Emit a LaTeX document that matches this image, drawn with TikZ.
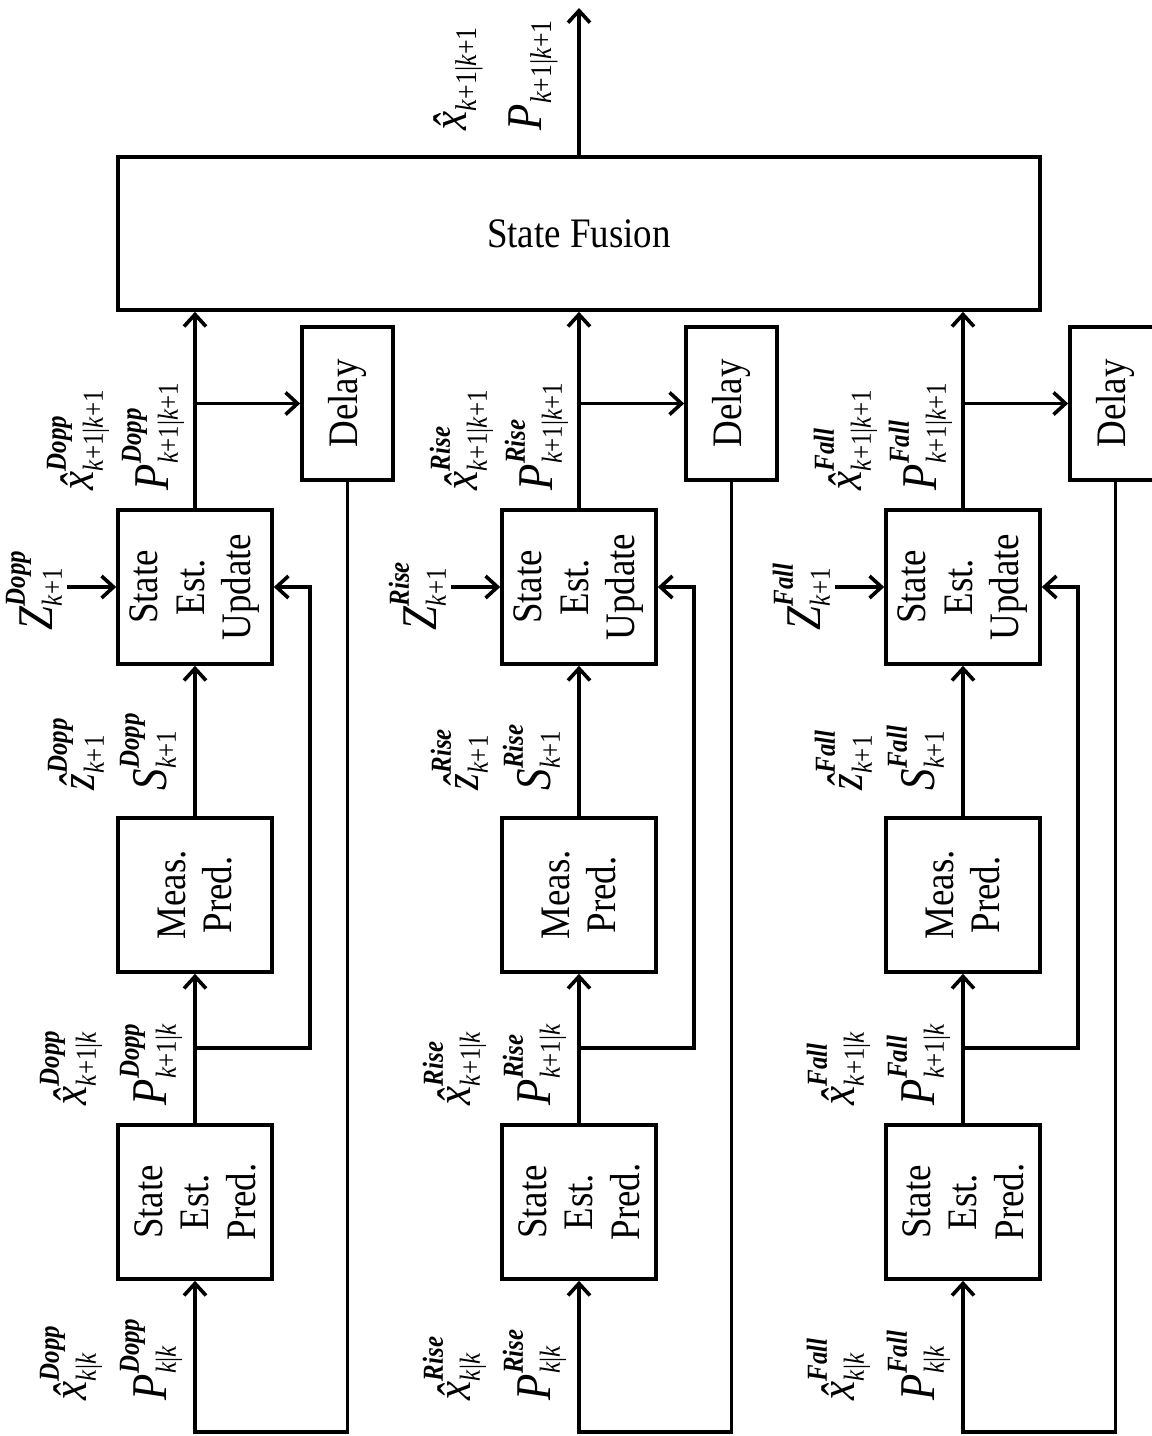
\documentclass[tikz,border=0pt]{standalone}
\usepackage{fontspec}
\setmainfont{Liberation Serif}
\newfontfamily\cfont[FakeStretch=0.88]{Liberation Serif}
\newfontfamily\lfont[FakeStretch=0.86]{Liberation Serif}
\usetikzlibrary{arrows.meta,calc}
% label: main symbol, superscript, subscript
\newcommand{\lab}[3]{{\itshape #1}\raisebox{-9pt}{\fontsize{29}{37}\selectfont\begin{tabular}[b]{@{}l@{}}{\bfseries\itshape #2}\\{\itshape #3}\end{tabular}}}
\newcommand{\labs}[2]{{\itshape #1}\raisebox{-10pt}{\fontsize{30}{40}\selectfont\itshape #2}}
\newcommand{\kp}{k\textup{+1}}
\newcommand{\vb}{\textup{|}}
\begin{document}
\begin{tikzpicture}[x=1pt,y=-1pt,
  line width=3.6pt,
  arr/.style={-{Straight Barb[length=12pt,width=22pt]}},
  blk/.style={draw,rotate=90,minimum width=154pt,minimum height=154pt,inner sep=0pt,align=center,font=\cfont\fontsize{42}{46.5}\selectfont},
  dly/.style={draw,rotate=90,minimum width=153pt,minimum height=91pt,inner sep=0pt,font=\cfont\fontsize{42}{46}\selectfont},
  lbl/.style={rotate=90,anchor=west,inner sep=0pt,font=\lfont\fontsize{50}{56}\selectfont}]
\useasboundingbox (0,0) rectangle (1152,1436);

\node[draw,minimum width=922pt,minimum height=153pt,inner sep=0pt,font=\cfont\fontsize{42}{46}\selectfont] (fus) at (579,233.5) {State Fusion};
\coordinate (out) at (579,8);
\draw[arr] (fus) -- (out);
\node[lbl] (lxo) at (458,132) {\labs{\^x}{\kp\vb\kp}};
\node[lbl] (lpo) at (533,132) {\labs{P}{\kp\vb\kp}};

\foreach \c/\dx/\nm in {1/0/Dopp,2/384/Rise,3/768/Fall}{
  \node[blk] (upd-\c) at ({195+\dx},587) {State\\Est.\\Update};
  \node[blk] (meas-\c) at ({195+\dx},895) {Meas.\\Pred.};
  \node[blk] (pred-\c) at ({195+\dx},1202) {State\\Est.\\Pred.};
  \node[dly] (dly-\c) at ({347.5+\dx},403.5) {Delay};
  \coordinate (jd-\c) at ({195+\dx},403.5);
  \coordinate (jf-\c) at ({195+\dx},1048);
  \coordinate (fb-\c) at ({310+\dx},1048);
  \coordinate (zin-\c) at ({67+\dx},587);
  \coordinate (bot-\c) at ({195+\dx},1432);
  \draw[arr] (upd-\c) -- (upd-\c |- fus.south);
  \draw[arr] (jd-\c) -- (dly-\c);
  \draw[arr] (meas-\c) -- (upd-\c);
  \draw[arr] (pred-\c) -- (meas-\c);
  \draw[arr] (jf-\c) -- (fb-\c) |- (upd-\c);
  \draw[arr] (zin-\c) -- (upd-\c);
  \draw[arr] (dly-\c) -- (dly-\c |- bot-\c) -- (bot-\c) -- (pred-\c);
  \node[lbl] (lxu-\c) at ({77+\dx},492) {\lab{\^x}{\nm}{\kp\vb\kp}};
  \node[lbl] (lpu-\c) at ({152+\dx},492) {\lab{P}{\nm}{\kp\vb\kp}};
  \node[lbl] (lz-\c) at ({36+\dx},632) {\lab{Z}{\nm}{\kp}};
  \node[lbl] (lzh-\c) at ({78+\dx},792) {\lab{\^z}{\nm}{\kp}};
  \node[lbl] (ls-\c) at ({150+\dx},792) {\lab{S}{\nm}{\kp}};
  \node[lbl] (lxp-\c) at ({70+\dx},1107) {\lab{\^x}{\nm}{\kp\vb k}};
  \node[lbl] (lpp-\c) at ({150+\dx},1107) {\lab{P}{\nm}{\kp\vb k}};
  \node[lbl] (lxk-\c) at ({70+\dx},1402) {\lab{\^x}{\nm}{k\vb k}};
  \node[lbl] (lpk-\c) at ({150+\dx},1402) {\lab{P}{\nm}{k\vb k}};
}
\end{tikzpicture}
\end{document}
